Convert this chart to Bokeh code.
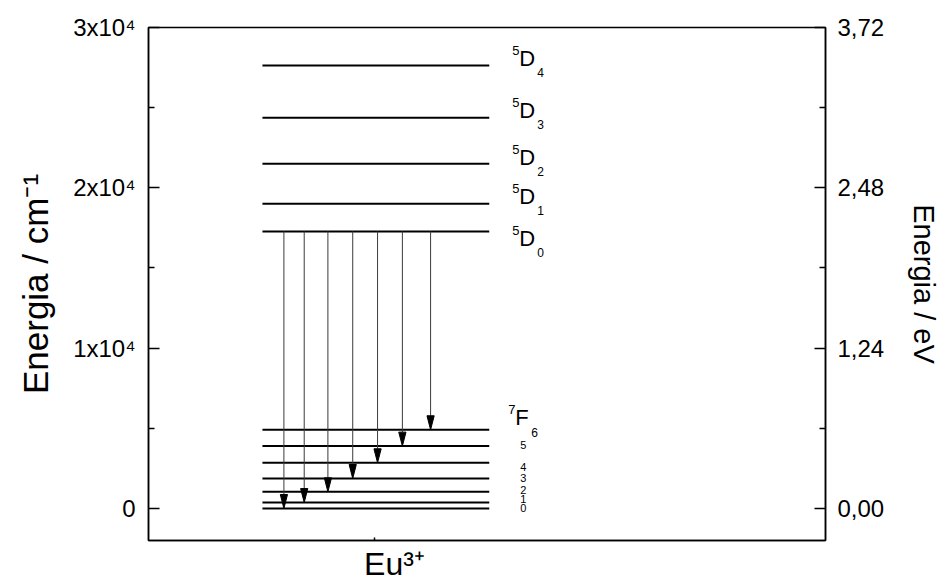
from bokeh.plotting import figure
from bokeh.models import FixedTicker, LinearAxis, Range1d, ColumnDataSource
from bokeh.embed import file_html
from bokeh.resources import INLINE
from bokeh.core.properties import value

# ---------------- data ----------------
d_J = ["0", "1", "2", "3", "4"]
d_energy = [17280, 19000, 21500, 24370, 27630]          # 5D_J levels, cm^-1
f_J = ["0", "1", "2", "3", "4", "5", "6"]
f_energy = [0, 370, 1040, 1870, 2850, 3890, 4910]       # 7F_J levels, cm^-1
arrow_x = [0.60, 0.69, 0.795, 0.905, 1.015, 1.125, 1.25]  # 5D0 -> 7F_J transitions
ion_label = "Eu³⁺"
cm_ticks = [0, 10000, 20000, 30000]
cm_minor = [5000, 15000, 25000]
cm_tick_labels = ["0", "1x10⁴", "2x10⁴", "3x10⁴"]
ev_per_cm = 1.24e-4
ev_tick_labels = [f"{t * ev_per_cm:.2f}".replace(".", ",") for t in cm_ticks]
y_label = "Energia / cm⁻¹"
y2_label = "Energia / eV"

# ---------------- style / layout ----------------
FONT = "Liberation Sans"
X0, X1 = 0, 3
Y0, Y1 = -2000, 30000
LEVEL_X0, LEVEL_X1 = 0.505, 1.51
ION_TICK_X = 1.0        # small tick under the level scheme
ION_LABEL_X = 1.09      # where the ion name is written
HEAD_LEN = 870          # arrow-head length in y data units (~14 px)
HEAD_HW = 0.016         # arrow-head half width in x data units (~3.5 px)

p = figure(width=943, height=585, output_backend="svg", toolbar_location=None,
           x_range=Range1d(X0, X1), y_range=Range1d(Y0, Y1),
           min_border_left=148, min_border_right=117,
           min_border_top=27, min_border_bottom=45)
p.grid.visible = False
p.outline_line_color = "black"
p.outline_line_width = 1.5
p.background_fill_color = "white"
p.border_fill_color = "white"


def style_axis(ax, fs="24px"):
    ax.axis_line_width = 1.5
    ax.major_tick_line_width = 1.5
    ax.minor_tick_line_width = 1.5
    ax.major_tick_out = 0
    ax.minor_tick_out = 0
    ax.major_label_text_font = FONT
    ax.major_label_text_font_size = fs
    ax.major_label_text_color = "black"
    ax.axis_label_text_font = FONT
    ax.axis_label_text_font_style = "normal"
    ax.axis_label_text_color = "black"


ya = p.yaxis[0]
style_axis(ya)
ya.ticker = FixedTicker(ticks=cm_ticks, minor_ticks=cm_minor)
ya.major_label_overrides = dict(zip(cm_ticks, cm_tick_labels))
ya.major_tick_in = 11
ya.minor_tick_in = 6
ya.major_label_standoff = 13
ya.axis_label = y_label
ya.axis_label_text_font_size = "35px"
ya.axis_label_standoff = 15

ra = LinearAxis()
style_axis(ra)
ra.ticker = FixedTicker(ticks=cm_ticks, minor_ticks=cm_minor)
ra.major_label_overrides = dict(zip(cm_ticks, ev_tick_labels))
ra.major_tick_in = 11
ra.minor_tick_in = 6
ra.major_label_standoff = 12
ra.axis_label = y2_label
ra.axis_label_text_font_size = "29px"
ra.axis_label_standoff = 21
p.add_layout(ra, "right")

xa = p.xaxis[0]
style_axis(xa, "32px")
xa.ticker = FixedTicker(ticks=[ION_LABEL_X], minor_ticks=[ION_TICK_X])
xa.major_label_overrides = {ION_LABEL_X: ion_label}
xa.major_tick_in = 0
xa.minor_tick_in = 3
xa.major_label_standoff = 5

# ---------------- levels ----------------
all_levels = d_energy + f_energy
lev = ColumnDataSource(dict(x0=[LEVEL_X0] * len(all_levels), x1=[LEVEL_X1] * len(all_levels),
                            y=all_levels))
p.segment(x0="x0", x1="x1", y0="y", y1="y", source=lev, line_color="black", line_width=2)

# ---------------- transitions ----------------
start = [d_energy[0]] * len(f_energy)
arr = ColumnDataSource(dict(x=arrow_x, y0=start, y1=[f + HEAD_LEN for f in f_energy]))
p.segment(x0="x", x1="x", y0="y0", y1="y1", source=arr, line_color="#3a3a3a", line_width=1)
heads_x = [[x - HEAD_HW, x, x + HEAD_HW] for x in arrow_x]
heads_y = [[f + HEAD_LEN, f, f + HEAD_LEN] for f in f_energy]
p.patches(xs=heads_x, ys=heads_y, fill_color="black", line_color="black", line_width=1)

# ---------------- level labels ----------------
d_shift = [13, -1, 0, -1, -1]   # extra px shift of each 5D_J label
n = len(d_energy)
p.text(x=[LEVEL_X1] * n, y=d_energy, text=["5"] * n, x_offset=23,
       y_offset=[-14 + s for s in d_shift], text_font=value(FONT), text_font_size="13px",
       text_baseline="middle", text_align="left", text_color="black")
p.text(x=[LEVEL_X1] * n, y=d_energy, text=["D"] * n, x_offset=30,
       y_offset=[-6 + s for s in d_shift], text_font=value(FONT), text_font_size="22px",
       text_baseline="middle", text_align="left", text_color="black")
p.text(x=[LEVEL_X1] * n, y=d_energy, text=d_J, x_offset=48,
       y_offset=[8 + s for s in d_shift], text_font=value(FONT), text_font_size="12px",
       text_baseline="middle", text_align="left", text_color="black")

top = [f_energy[-1]]
p.text(x=[LEVEL_X1], y=top, text=["7"], x_offset=19, y_offset=-20, text_font=value(FONT),
       text_font_size="13px", text_baseline="middle", text_align="left", text_color="black")
p.text(x=[LEVEL_X1], y=top, text=["F"], x_offset=26, y_offset=-12, text_font=value(FONT),
       text_font_size="22px", text_baseline="middle", text_align="left", text_color="black")
p.text(x=[LEVEL_X1], y=top, text=[f_J[-1]], x_offset=42, y_offset=3, text_font=value(FONT),
       text_font_size="12px", text_baseline="middle", text_align="left", text_color="black")
f_shift = [0, -4, -2, 0, 4, -1]
m = len(f_energy) - 1
p.text(x=[LEVEL_X1] * m, y=f_energy[:-1], text=f_J[:-1], x_offset=34, y_offset=f_shift,
       text_font=value(FONT), text_font_size="11px", text_baseline="middle",
       text_align="center", text_color="black")

open("out.html", "w").write(file_html(p, INLINE))
